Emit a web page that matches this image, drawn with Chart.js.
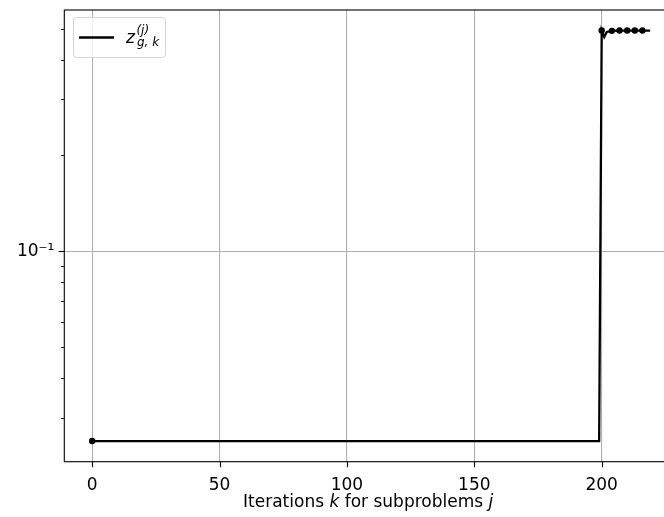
<!DOCTYPE html>
<html>
<head>
<meta charset="utf-8">
<script src="https://cdn.jsdelivr.net/npm/chart.js@4.4.1/dist/chart.umd.min.js"></script>
<style>
  html, body { margin: 0; padding: 0; background: #fff; }
  #wrap { width: 664px; height: 517px; overflow: hidden; }
  #box { width: 690px; height: 517px; }
</style>
</head>
<body>
<div id="wrap"><div id="box"><canvas id="zChart"></canvas></div></div>
<script>
// recorded iterations and the value of z at each of them
const iterations = [0, 199, 200, 201, 202, 204, 207, 210, 213, 216, 219];
const zValues = [0.0254, 0.0254, 0.493, 0.471, 0.488, 0.492, 0.493, 0.493, 0.493, 0.493, 0.493];
// first iteration of each subproblem j gets a dot
const subproblemStarts = [0, 200, 204, 207, 210, 213, 216];

const xTicks = [0, 50, 100, 150, 200];
const yTicks = [0.03, 0.04, 0.05, 0.06, 0.07, 0.08, 0.09, 0.1, 0.2, 0.3, 0.4, 0.5];
const yMajor = [0.1];
const yMajorLabels = ['10\u207B\u00B9'];
const xRange = [-10.95, 229.95];
const yRange = [0.02188, 0.572];

const FONT = 'DejaVu Sans';
const xTitle = [['Iterations ', false], ['k', true], [' for subproblems ', false], ['j', true]];
const legendLabel = { base: 'z', sup: '(j)', sub: 'g, k' };

// spines, tick marks, x label and legend, drawn matplotlib-style
const frame = {
  id: 'frame',
  afterDatasetsDraw(chart) {
    const c = chart.ctx;
    const a = chart.chartArea;
    const xs = chart.scales.x, ys = chart.scales.y;
    c.save();
    c.strokeStyle = '#000';

    // tick marks
    c.lineWidth = 1.1;
    xs.ticks.forEach(t => {
      const px = Math.round(xs.getPixelForValue(t.value)) + 0.5;
      c.beginPath(); c.moveTo(px, a.bottom); c.lineTo(px, a.bottom + 5.5); c.stroke();
    });
    ys.ticks.forEach(t => {
      const major = yMajor.includes(t.value);
      const py = Math.round(ys.getPixelForValue(t.value)) + 0.5;
      c.lineWidth = major ? 1.1 : 0.9;
      c.beginPath(); c.moveTo(a.left, py); c.lineTo(a.left - (major ? 5.5 : 3.2), py); c.stroke();
    });

    // spines
    c.lineWidth = 1.1;
    c.strokeRect(a.left, a.top, a.right - a.left, a.bottom - a.top);

    // x axis label with italic k and j
    const cx = (a.left + a.right) / 2 - 3;
    const fontOf = it => (it ? 'italic ' : '') + '17px "' + FONT + '"';
    let w = 0;
    xTitle.forEach(([s, it]) => { c.font = fontOf(it); w += c.measureText(s).width; });
    let x = cx - w / 2;
    c.fillStyle = '#000';
    c.textBaseline = 'alphabetic';
    c.textAlign = 'left';
    xTitle.forEach(([s, it]) => {
      c.font = fontOf(it);
      c.fillText(s, x, 507);
      x += c.measureText(s).width;
    });

    // legend
    const lx = 73.5, ly = 17.5, lw = 92, lh = 40, r = 3;
    c.beginPath();
    c.moveTo(lx + r, ly);
    c.arcTo(lx + lw, ly, lx + lw, ly + lh, r);
    c.arcTo(lx + lw, ly + lh, lx, ly + lh, r);
    c.arcTo(lx, ly + lh, lx, ly, r);
    c.arcTo(lx, ly, lx + lw, ly, r);
    c.closePath();
    c.fillStyle = 'rgba(255,255,255,0.8)';
    c.fill();
    c.strokeStyle = 'rgba(204,204,204,0.8)';
    c.lineWidth = 1;
    c.stroke();

    c.strokeStyle = '#000';
    c.lineWidth = 2.3;
    c.beginPath(); c.moveTo(79, 37.5); c.lineTo(114, 37.5); c.stroke();

    c.fillStyle = '#000';
    c.font = 'italic 17px "' + FONT + '"';
    c.fillText(legendLabel.base, 126, 43);
    const zw = c.measureText(legendLabel.base).width;
    c.font = 'italic 12px "' + FONT + '"';
    c.fillText(legendLabel.sup, 126 + zw + 1.5, 34);
    c.fillText(legendLabel.sub, 126 + zw + 2, 46);
    c.restore();
  }
};

new Chart(document.getElementById('zChart'), {
  type: 'line',
  data: {
    datasets: [{
      label: 'z_{g,k}^{(j)}',
      data: iterations.map((k, i) => ({ x: k, y: zValues[i] })),
      borderColor: '#000',
      backgroundColor: '#000',
      borderWidth: 2.3,
      pointRadius: ctx => subproblemStarts.includes(iterations[ctx.dataIndex]) ? 3.2 : 0,
      pointBorderWidth: 0,
      pointBackgroundColor: '#000',
      tension: 0,
      fill: false
    }]
  },
  options: {
    responsive: true,
    maintainAspectRatio: false,
    animation: false,
    events: [],
    layout: { padding: { top: 10, right: 12, left: 0, bottom: 0 } },
    plugins: { legend: { display: false }, tooltip: { enabled: false } },
    scales: {
      x: {
        type: 'linear',
        min: xRange[0],
        max: xRange[1],
        afterBuildTicks: s => { s.ticks = xTicks.map(v => ({ value: v })); },
        afterFit: s => { s.height = 55.3; s.paddingLeft = 0; s.paddingRight = 0; },
        grid: { color: '#b0b0b0', lineWidth: 1.1, drawTicks: false },
        border: { display: false },
        ticks: {
          color: '#000',
          font: { family: FONT, size: 17 },
          padding: 14,
          maxRotation: 0,
          autoSkip: false
        }
      },
      y: {
        type: 'logarithmic',
        min: yRange[0],
        max: yRange[1],
        afterBuildTicks: s => { s.ticks = yTicks.map(v => ({ value: v, major: yMajor.includes(v) })); },
        afterFit: s => { s.width = 64.3; s.paddingTop = 0; s.paddingBottom = 0; },
        grid: {
          color: ctx => (ctx.tick && yMajor.includes(ctx.tick.value)) ? '#b0b0b0' : 'rgba(0,0,0,0)',
          lineWidth: 1.1,
          drawTicks: false
        },
        border: { display: false },
        ticks: {
          color: '#000',
          font: { family: FONT, size: 17 },
          padding: 10,
          autoSkip: false,
          callback: v => {
            const i = yMajor.indexOf(v);
            return i >= 0 ? yMajorLabels[i] : '';
          }
        }
      }
    }
  },
  plugins: [frame]
});
</script>
</body>
</html>
